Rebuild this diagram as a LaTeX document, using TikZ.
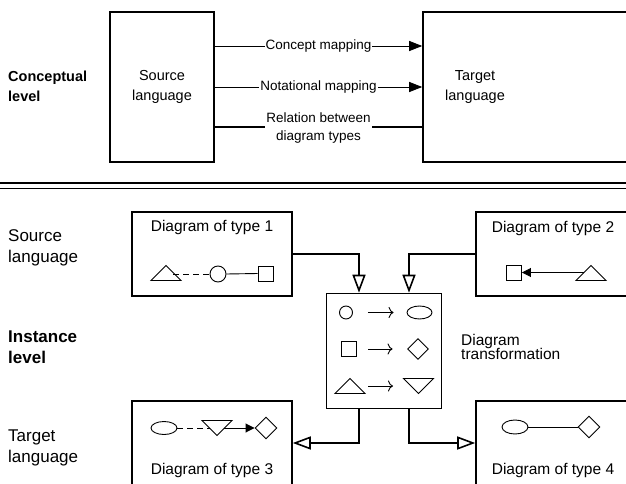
\documentclass[tikz,border=0pt]{standalone}
\usepackage{fontspec}
\setmainfont{Liberation Sans}
\usetikzlibrary{arrows.meta,shapes.geometric}

\tikzset{
  % small notation glyphs: triangles drawn as pics with two side coordinates
  uptri/.pic={
    \draw[line width=0.9pt,line join=miter] (0,-7.5) -- (15,7.5) -- (-15,7.5) -- cycle;
    \coordinate (-l) at (-7,0);
    \coordinate (-r) at (7,0);
  },
  downtri/.pic={
    \draw[line width=0.9pt,line join=miter] (0,7.5) -- (15,-7.5) -- (-15,-7.5) -- cycle;
    \coordinate (-l) at (-7,0);
    \coordinate (-r) at (7,0);
  },
}

\begin{document}
\begin{tikzpicture}[x=1pt,y=-1pt,
  box/.style={draw,line width=1.6pt,inner sep=0pt},
  boxtext/.style={font=\fontsize{14.5}{20}\selectfont,align=center,inner sep=0pt},
  sidelbl/.style={font=\fontsize{17}{21}\selectfont,align=left,anchor=west,inner sep=0pt},
  sidebold/.style={sidelbl,font=\fontsize{17}{21}\selectfont\bfseries},
  title/.style={font=\fontsize{15.5}{19}\selectfont,inner sep=0pt},
  maplbl/.style={font=\fontsize{13.5}{18}\selectfont,fill=white,inner sep=1pt,align=center},
  maparrow/.style={line width=0.9pt,-{Triangle[length=13pt,width=10pt]}},
  flow/.style={line width=1.6pt,-{Triangle[open,length=18pt,width=13pt,fill=white]}},
  glyph/.style={draw,line width=0.9pt,inner sep=0pt},
  sq/.style={glyph,rectangle,minimum size=15pt},
  circ/.style={glyph,circle,minimum size=15pt},
  ell/.style={glyph,ellipse,minimum width=26pt,minimum height=13pt},
  dia/.style={glyph,diamond,minimum size=22pt},
  link/.style={line width=0.9pt},
  dashlink/.style={line width=0.9pt,dash pattern=on 6pt off 4pt},
  rulearrow/.style={line width=0.9pt,-{To[length=5pt,width=11pt]}},
  headlink/.style={line width=0.9pt,-{Triangle[length=9pt,width=9pt]}},
]
\clip (0,0) rectangle (626,484);

% ---------- conceptual level ----------
\node[sidebold,font=\fontsize{14.5}{20}\selectfont\bfseries] (conc) at (8,86) {Conceptual\\level};

\node[box,boxtext,minimum width=104pt,minimum height=150pt] (src) at (162,87) {Source\\language};
\node[box,minimum width=217pt,minimum height=150pt] (tgt) at (531.5,87) {};
\node[boxtext] (tgtl) at (475,87) {Target\\language};

\coordinate (lv1) at (0,46);
\coordinate (lv2) at (0,87);
\coordinate (lv3) at (0,127);
\draw[maparrow] (src.east |- lv1) -- node[maplbl] (cm) {Concept mapping} (tgt.west |- lv1);
\draw[maparrow] (src.east |- lv2) -- node[maplbl] (nm) {Notational mapping} (tgt.west |- lv2);
\draw[line width=1.5pt] (src.east |- lv3) -- node[maplbl,yshift=-1pt] (rel) {Relation between\\diagram types} (tgt.west |- lv3);

% ---------- separator ----------
\draw[line width=1.8pt] (0,183) -- (626,183);
\draw[line width=1.8pt] (0,188.5) -- (626,188.5);

% ---------- instance level ----------
\node[sidelbl] (srcl) at (8,248) {Source\\language};
\node[sidebold] (inst) at (8,347) {Instance\\level};
\node[sidelbl] (tgtl2) at (8,448) {Target\\language};

\node[box,minimum width=160pt,minimum height=84pt] (d1) at (212,254) {};
\node[box,minimum width=160pt,minimum height=84pt] (d2) at (556,254) {};
\node[box,minimum width=160pt,minimum height=84pt] (d3) at (212,443) {};
\node[box,minimum width=160pt,minimum height=84pt] (d4) at (556,443) {};
\node[box,minimum width=115pt,minimum height=115pt] (tr) at (384,351) {};

\node[title] (d1t) at (212,227) {Diagram of type 1};
\node[title] (d2t) at (553,228) {Diagram of type 2};
\node[title] (d3t) at (212,470) {Diagram of type 3};
\node[title] (d4t) at (553,470) {Diagram of type 4};
\node[title,align=left,anchor=west,font=\fontsize{15.5}{14.5}\selectfont] (trl) at (461,347) {Diagram\\transformation};

\draw[flow] (d1.east) -| ([xshift=-25pt]tr.north);
\draw[flow] (d2.west) -| ([xshift=25pt]tr.north);
\draw[flow] ([xshift=-25pt]tr.south) |- (d3.east);
\draw[flow] ([xshift=25pt]tr.south) |- (d4.west);

% type 1: triangle - - circle --- square
\pic (a1) at (166,273) {uptri};
\node[circ,minimum size=16pt] (a2) at (218,274) {};
\node[sq] (a3) at (265.5,273.5) {};
\draw[dashlink] (a1-r |- a2) -- (a2.west);
\draw[link] (a2.east) -- (a3.west);

% type 2: square <--- triangle
\node[sq] (b1) at (514,272.5) {};
\pic (b2) at (591,273) {uptri};
\draw[headlink] (b2-l |- b1) -- (b1.east);

% type 3: ellipse - - inverted triangle ---> diamond
\node[ell] (c1) at (164,428) {};
\pic (c2) at (217,428) {downtri};
\node[dia] (c3) at (266,428) {};
\draw[dashlink] (c1.east) -- (c2-l);
\draw[headlink] (c2-r) -- (c3.west);

% type 4: ellipse --- diamond
\node[ell,minimum height=14pt] (e1) at (515,427) {};
\node[dia] (e2) at (589,427) {};
\draw[link] (e1.east) -- (e2.west);

% transformation rules
\node[circ,minimum size=13pt] (r1a) at (346,312.5) {};
\node[ell,minimum width=25pt] (r1b) at (419.5,312.5) {};
\draw[rulearrow,shorten <=15pt,shorten >=13pt] (r1a) -- (r1b);
\node[sq,minimum size=15.5pt] (r2a) at (349,349) {};
\node[dia,minimum size=21pt] (r2b) at (418,349) {};
\draw[rulearrow,shorten <=11pt,shorten >=14.5pt] (r2a) -- (r2b);
\pic (r3a) at (350,386) {uptri};
\pic (r3b) at (418.5,386) {downtri};
\draw[rulearrow,shorten <=11pt,shorten >=18.5pt] (r3a-r) -- (r3b-l);
\end{tikzpicture}
\end{document}
